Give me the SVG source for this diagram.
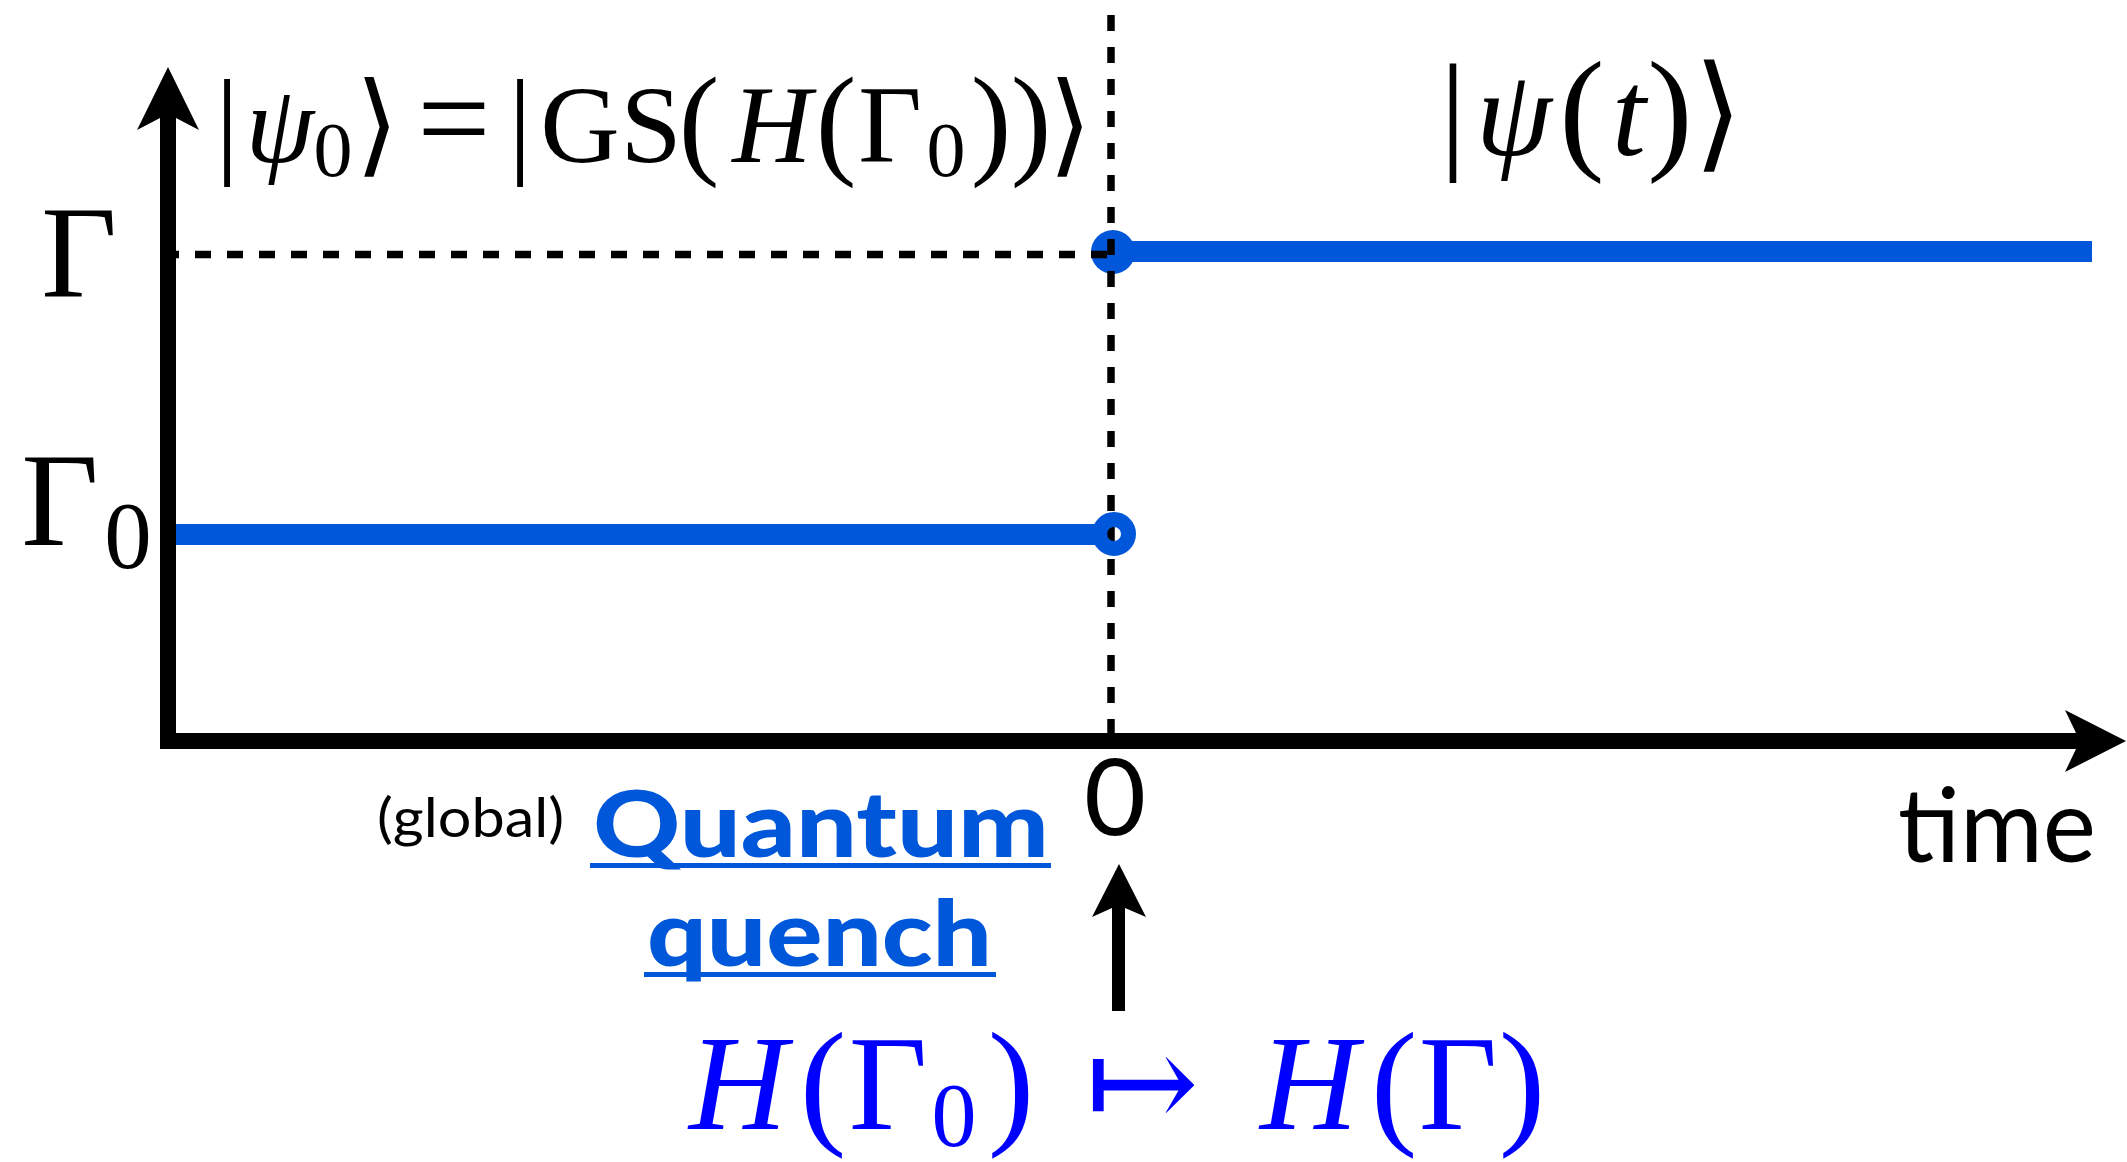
<svg xmlns="http://www.w3.org/2000/svg" width="2127" height="1162" viewBox="0 0 2127 1162">
<style>
.ax{fill:#000}
.blue{fill:#0057D9}
.dash{stroke:#000;stroke-width:7.5;stroke-dasharray:16 16;fill:none}
.cm{font-family:"Liberation Serif","DejaVu Serif",serif;fill:#000;text-anchor:middle}
.it{font-style:italic}
.sym{font-family:"DejaVu Sans","DejaVu Serif",sans-serif;font-weight:200}
.gs{font-family:Lato,"Open Sans","Liberation Sans",sans-serif;fill:#000}
.qq{font-family:Lato,"Open Sans","Liberation Sans",sans-serif;font-weight:900;fill:#0057D9}
.bl{fill:#0000FF}
</style>
<rect width="2127" height="1162" fill="#fff"/>

<g id="curves">
  <rect class="blue" x="168" y="524" width="945" height="21"/>
  <rect class="blue" x="1113" y="241" width="979" height="21"/>
  <circle class="blue" cx="1113" cy="252" r="22"/>
</g>

<g id="connectors">
  <rect class="ax" x="160" y="118" width="16" height="631"/>
  <polygon class="ax" points="168,67 199,130 176,118 160,118 137,130"/>
  <rect class="ax" x="160" y="733" width="1916" height="16"/>
  <polygon class="ax" points="2126,741 2065,710 2076,733 2076,749 2065,772"/>
  <line class="dash" x1="163" y1="254.5" x2="1108" y2="254.5"/>
  <line class="dash" x1="1111" y1="15" x2="1111" y2="735"/>
  <rect class="ax" x="1112" y="905" width="13" height="106"/>
  <polygon class="ax" points="1119,864 1146,917 1125,908 1112,908 1092,917"/>
</g>

<g id="quench-point">
  <circle cx="1114" cy="534" r="14.5" fill="none" stroke="#0057D9" stroke-width="15"/>
</g>

<g id="label-psi0">
  <text class="cm" font-size="110" y="162">
    <tspan x="227" font-size="118">|</tspan><tspan x="280" class="it">ψ</tspan><tspan x="333" y="176" font-size="78">0</tspan><tspan x="377" y="162" class="sym" font-size="112">⟩</tspan><tspan x="454" font-size="130">=</tspan><tspan x="520" font-size="118">|</tspan><tspan x="580">G</tspan><tspan x="651">S</tspan><tspan x="699" font-size="122">(</tspan><tspan x="772" class="it">H</tspan><tspan x="836" font-size="122">(</tspan><tspan x="890">Γ</tspan><tspan x="946" y="176" font-size="78">0</tspan><tspan x="991" y="162" font-size="122">)</tspan><tspan x="1031" font-size="122">)</tspan><tspan x="1070" class="sym" font-size="112">⟩</tspan>
  </text>
</g>

<g id="label-psit">
  <text class="cm" font-size="122" y="155">
    <tspan x="1453" font-size="132">|</tspan><tspan x="1514" class="it">ψ</tspan><tspan x="1582" font-size="136">(</tspan><tspan x="1629" class="it">t</tspan><tspan x="1670" font-size="136">)</tspan><tspan x="1718" class="sym" font-size="126">⟩</tspan>
  </text>
</g>

<g id="label-gamma">
  <text class="cm" font-size="131" x="79" y="297">Γ</text>
</g>

<g id="label-gamma0">
  <text class="cm" font-size="134" y="545"><tspan x="60">Γ</tspan><tspan x="128" y="568" font-size="95">0</tspan></text>
</g>

<g id="label-zero">
  <text class="gs" font-size="107" x="1115" y="835" text-anchor="middle">0</text>
</g>

<g id="label-time">
  <text class="gs" font-size="103" x="1898" y="862" textLength="198" lengthAdjust="spacingAndGlyphs">time</text>
</g>

<g id="label-quench">
  <text class="gs" font-size="54" x="377" y="837" textLength="187" lengthAdjust="spacingAndGlyphs">(global)</text>
  <text class="qq" font-size="92" x="593" y="857" textLength="456" lengthAdjust="spacingAndGlyphs">Quantum</text>
  <rect class="blue" x="590" y="863" width="461" height="5"/>
  <text class="qq" font-size="92" x="647" y="966" textLength="345" lengthAdjust="spacingAndGlyphs">quench</text>
  <rect class="blue" x="644" y="972" width="352" height="5"/>
</g>

<g id="label-hamiltonian">
  <text class="cm bl" font-size="136" y="1129">
    <tspan x="738" class="it">H</tspan><tspan x="823" font-size="140">(</tspan><tspan x="888">Γ</tspan><tspan x="954" y="1146" font-size="90">0</tspan><tspan x="1011" y="1129" font-size="140">)</tspan><tspan x="1142" class="sym" font-size="136">↦</tspan><tspan x="1309" class="it">H</tspan><tspan x="1394" font-size="140">(</tspan><tspan x="1458">Γ</tspan><tspan x="1522" font-size="140">)</tspan>
  </text>
</g>
</svg>
